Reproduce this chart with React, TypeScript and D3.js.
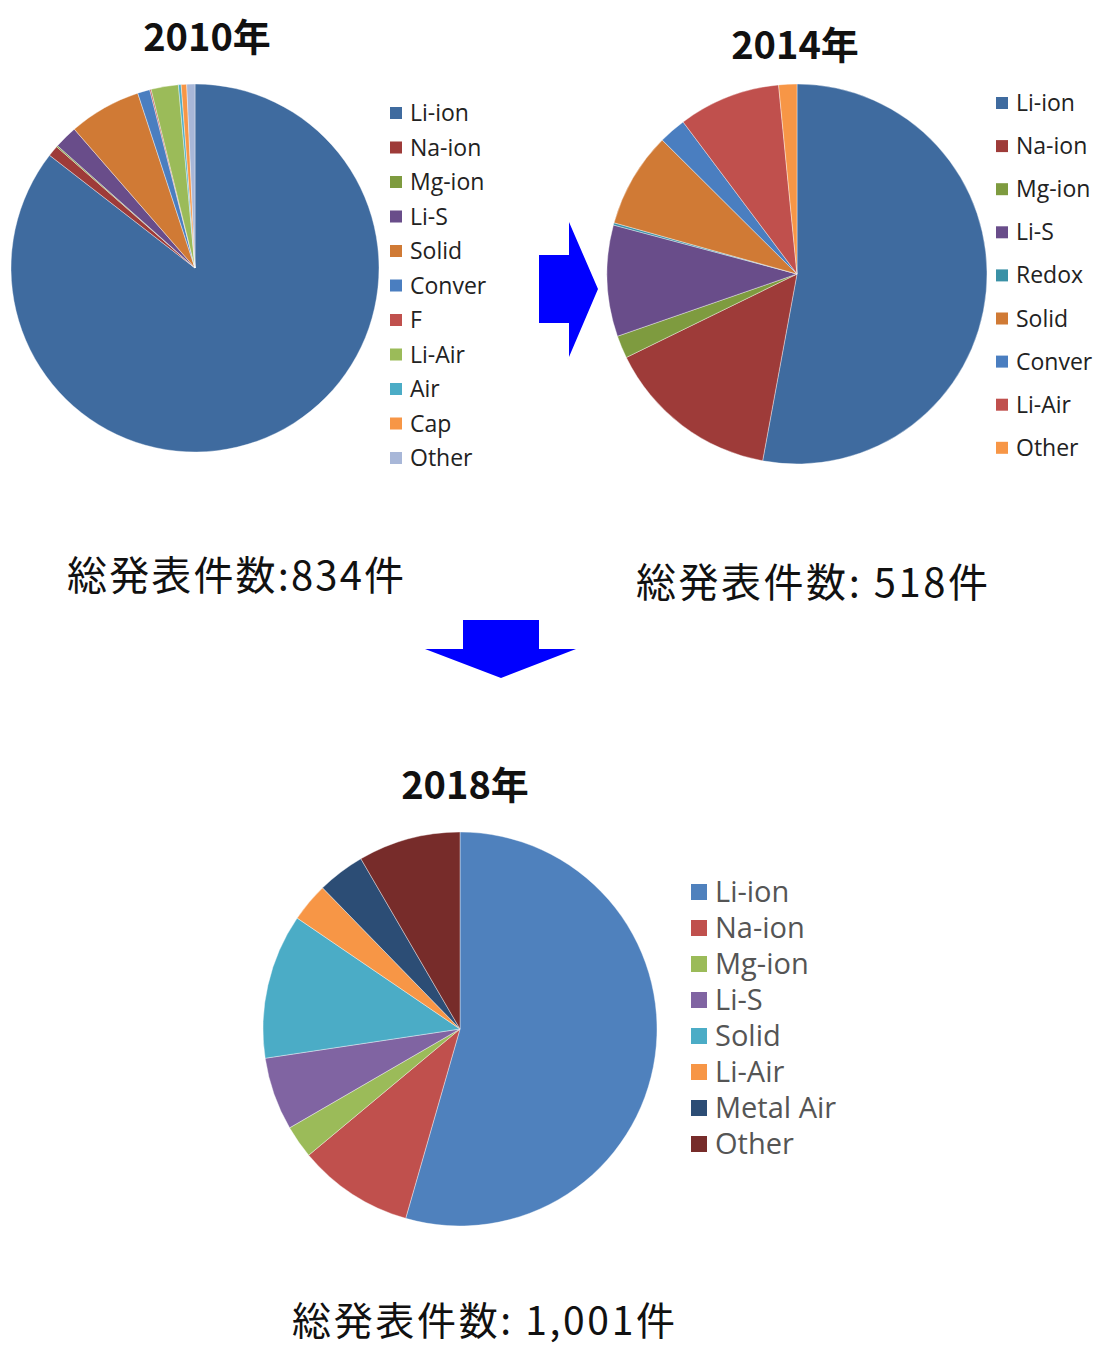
import React from "react";
import * as d3 from "d3";

const width = 1095;
const height = 1348;

// 2010
const cats2010 = ["Li-ion", "Na-ion", "Mg-ion", "Li-S", "Solid", "Conver", "F", "Li-Air", "Air", "Cap", "Other"];
const vals2010 = [713, 8, 1, 17, 53, 9, 1, 20, 2, 4, 6];
const colors2010 = ["#3F6B9F", "#9E3B39", "#7E9B3F", "#694D8A", "#D07A35", "#4A7EC0", "#C0504D", "#9BBB59", "#4BACC6", "#F79646", "#A8B7D8"];

// 2014
const cats2014 = ["Li-ion", "Na-ion", "Mg-ion", "Li-S", "Redox", "Solid", "Conver", "Li-Air", "Other"];
const vals2014 = [274, 77, 10, 49, 1, 42, 12, 45, 8];
const colors2014 = ["#3F6B9F", "#9E3B39", "#7E9B3F", "#694D8A", "#3A91A6", "#D07A35", "#4A7EC0", "#C0504D", "#F79646"];

// 2018
const cats2018 = ["Li-ion", "Na-ion", "Mg-ion", "Li-S", "Solid", "Li-Air", "Metal Air", "Other"];
const vals2018 = [545, 95, 27, 60, 119, 32, 39, 84];
const colors2018 = ["#4F81BD", "#C0504D", "#9BBB59", "#8064A2", "#4BACC6", "#F79646", "#2C4D75", "#772C2A"];

const titles = ["2010年", "2014年", "2018年"];
const totals = ["総発表件数:834件", "総発表件数: 518件", "総発表件数: 1,001件"];

const jp = "'Noto Sans CJK JP', 'Noto Sans', sans-serif";
const latin = "'Open Sans', 'Noto Sans', sans-serif";

type PieProps = {
  cx: number;
  cy: number;
  r: number;
  values: number[];
  colors: string[];
};

function Pie({ cx, cy, r, values, colors }: PieProps) {
  const arcs = d3.pie<number>().sort(null).value(d => d)(values);
  const arc = d3.arc<d3.PieArcDatum<number>>().innerRadius(0).outerRadius(r);
  return (
    <g transform={`translate(${cx},${cy})`}>
      {arcs.map((a, i) => (
        <path
          key={i}
          d={arc(a) || ""}
          fill={colors[i]}
          stroke="#ffffff"
          strokeOpacity={0.55}
          strokeWidth={0.7}
        />
      ))}
    </g>
  );
}

type LegendProps = {
  x: number;
  y: number;
  step: number;
  box: number;
  fontSize: number;
  color: string;
  labels: string[];
  colors: string[];
};

function Legend({ x, y, step, box, fontSize, color, labels, colors }: LegendProps) {
  return (
    <g transform={`translate(${x},${y})`}>
      {labels.map((l, i) => (
        <g key={l} transform={`translate(0,${i * step})`}>
          <rect x={0} y={-box / 2} width={box} height={box} fill={colors[i]} />
          <text
            x={box + 8}
            y={0}
            dy="0.35em"
            fontFamily={latin}
            fontSize={fontSize}
            fill={color}
          >
            {l}
          </text>
        </g>
      ))}
    </g>
  );
}

export default function App() {
  const rightArrow = d3.line()([
    [539, 255], [569, 255], [569, 222], [598, 289], [569, 357], [569, 323], [539, 323],
  ]) + "Z";
  const downArrow = d3.line()([
    [463, 620], [539, 620], [539, 649], [576, 649], [501, 678], [425, 649], [463, 649],
  ]) + "Z";

  return (
    <svg
      width={width}
      height={height}
      viewBox={`0 0 ${width} ${height}`}
      style={{ position: "absolute", left: 0, top: 0, background: "#fff" }}
    >
      <rect width={width} height={height} fill="#fff" />

      {/* 2010 */}
      <text x={207} y={51} textAnchor="middle" fontFamily={jp} fontWeight={700} fontSize={38} fill="#111">
        {titles[0]}
      </text>
      <Pie cx={195} cy={268} r={184} values={vals2010} colors={colors2010} />
      <Legend x={390} y={113} step={34.5} box={12} fontSize={23} color="#222" labels={cats2010} colors={colors2010} />
      <text x={67} y={590} fontFamily={jp} fontSize={40} fill="#111" textLength={337} lengthAdjust="spacing">
        {totals[0]}
      </text>

      {/* 2014 */}
      <text x={795} y={59} textAnchor="middle" fontFamily={jp} fontWeight={700} fontSize={38} fill="#111">
        {titles[1]}
      </text>
      <Pie cx={797} cy={274} r={190} values={vals2014} colors={colors2014} />
      <Legend x={996} y={103} step={43.1} box={12} fontSize={23} color="#222" labels={cats2014} colors={colors2014} />
      <text x={636} y={597} fontFamily={jp} fontSize={40} fill="#111" textLength={352} lengthAdjust="spacing">
        {totals[1]}
      </text>

      {/* arrows */}
      <path d={rightArrow} fill="#0000FF" />
      <path d={downArrow} fill="#0000FF" />

      {/* 2018 */}
      <text x={465} y={799} textAnchor="middle" fontFamily={jp} fontWeight={700} fontSize={38} fill="#111">
        {titles[2]}
      </text>
      <Pie cx={460} cy={1029} r={197} values={vals2018} colors={colors2018} />
      <Legend x={691} y={892} step={36} box={16} fontSize={29} color="#555" labels={cats2018} colors={colors2018} />
      <text x={292} y={1335} fontFamily={jp} fontSize={39} fill="#111" textLength={383} lengthAdjust="spacing">
        {totals[2]}
      </text>
    </svg>
  );
}
